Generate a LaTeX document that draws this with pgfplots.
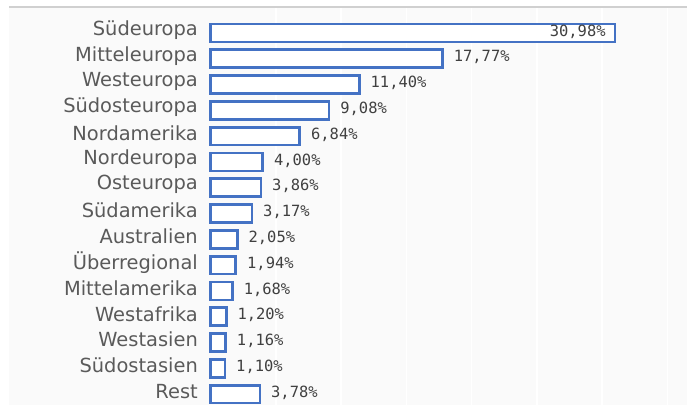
\documentclass[border=0pt]{standalone}
\usepackage{fontspec}
\setmainfont{DejaVu Sans}
\newfontfamily\monofont{DejaVu Sans Mono}
\usepackage{pgfplots}
\pgfplotsset{compat=1.18}
\usepackage{pgfplotstable}
\definecolor{barblue}{HTML}{4472C4}
\definecolor{labgray}{HTML}{5A5A5A}
\definecolor{valgray}{HTML}{404040}
\definecolor{bgpanel}{HTML}{FAFAFA}
\definecolor{topline}{HTML}{D0D0D0}

\pgfplotstableread{
x y label
30.98 0 {30,98\%}
}\first
\pgfplotstableread{
x y label
17.77 1 {17,77\%}
11.40 2 {11,40\%}
9.08 3 {9,08\%}
6.84 4 {6,84\%}
4.00 5 {4,00\%}
3.86 6 {3,86\%}
3.17 7 {3,17\%}
2.05 8 {2,05\%}
1.94 9 {1,94\%}
1.68 10 {1,68\%}
1.20 11 {1,20\%}
1.16 12 {1,16\%}
1.10 13 {1,10\%}
3.78 14 {3,78\%}
}\rest

\begin{document}
\begin{tikzpicture}[x=1bp,y=1bp]
\useasboundingbox (0,0) rectangle (687,405);
\fill[bgpanel] (9,0) rectangle (687,398);
\draw[topline, line width=1.5bp] (9,398) -- (687,398);
\begin{axis}[
  at={(210.5bp,0bp)}, anchor=south west,
  scale only axis, width=476.5bp, height=397bp,
  xmin=0, xmax=36.5,
  y dir=reverse, ymin=-0.969, ymax=14.42,
  axis line style={draw=none},
  xtick={5,10,...,35}, xticklabels={},
  xmajorgrids, grid style={white, line width=1.5bp},
  major tick length=0pt,
  ytick={0,...,14},
  yticklabels={Südeuropa,Mitteleuropa,Westeuropa,Südosteuropa,Nordamerika,Nordeuropa,Osteuropa,Südamerika,Australien,Überregional,Mittelamerika,Westafrika,Westasien,Südostasien,Rest},
  yticklabel style={font=\fontsize{19.5}{20}\selectfont, text=labgray, inner sep=0pt, anchor=east, xshift=-12.5bp, yshift=3bp},
  xbar, bar width=17.9bp, bar shift=0pt,
  point meta=explicit symbolic,
  clip=false,
]
\addplot[xbar, bar shift=0pt, draw=barblue, fill=white, line width=2.7bp,
  nodes near coords,
  every node near coord/.append style={font=\monofont\fontsize{15.5}{16}\selectfont, text=valgray, inner sep=0pt, anchor=east, xshift=-8bp, yshift=1.5bp}]
  table[x=x, y=y, meta=label] {\first};
\addplot[xbar, bar shift=0pt, draw=barblue, fill=white, line width=2.7bp,
  nodes near coords,
  every node near coord/.append style={font=\monofont\fontsize{15.5}{16}\selectfont, text=valgray, inner sep=0pt, anchor=west, xshift=10bp, yshift=1.5bp}]
  table[x=x, y=y, meta=label] {\rest};
\end{axis}
\end{tikzpicture}
\end{document}
